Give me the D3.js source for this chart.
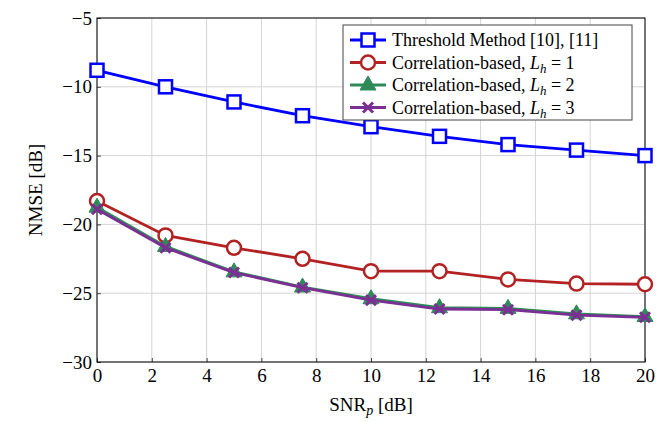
<!DOCTYPE html>
<html>
<head>
<meta charset="utf-8">
<script src="https://cdn.jsdelivr.net/npm/d3@7"></script>
<style>
  svg text, svg tspan { font-family: 'Liberation Serif', serif !important; }
</style>
</head>
<body style="margin:0">
<div class="chart"></div>
<script>
// data
const snr = [0, 2.5, 5, 7.5, 10, 12.5, 15, 17.5, 20]
const threshold = [-8.8, -10.0, -11.1, -12.1, -12.9, -13.6, -14.2, -14.6, -15.0]
const corrL1 = [-18.3, -20.8, -21.7, -22.5, -23.4, -23.4, -24.0, -24.3, -24.35]
const corrL2 = [-18.75, -21.6, -23.45, -24.55, -25.4, -26.05, -26.1, -26.5, -26.7]
const corrL3 = [-18.9, -21.7, -23.5, -24.6, -25.5, -26.15, -26.2, -26.6, -26.75]
const xTicks = [0, 2, 4, 6, 8, 10, 12, 14, 16, 18, 20]
const yTicks = [-5, -10, -15, -20, -25, -30]
const labels = ['Threshold Method [10], [11]', 'Correlation-based, ', 'Correlation-based, ', 'Correlation-based, ']

const margin = {top: 18, right: 24, bottom: 60, left: 97}
const width = 669 - margin.left - margin.right
const height = 422 - margin.top - margin.bottom

const root = d3.select('.chart')
  .append('svg')
    .attr('width', 669)
    .attr('height', 422)
const svg = root.append('g')
    .attr('transform', `translate(${margin.left}, ${margin.top})`)

const x = d3.scaleLinear().domain([0, 20]).range([0, width])
const y = d3.scaleLinear().domain([-30, -5]).range([height, 0])

// grid
svg.append('g').selectAll('line')
  .data(xTicks).enter().append('line')
    .attr('x1', d => x(d)).attr('x2', d => x(d))
    .attr('y1', 0).attr('y2', height)
    .style('stroke', '#d4d4d4').style('stroke-width', 1)
svg.append('g').selectAll('line')
  .data(yTicks).enter().append('line')
    .attr('x1', 0).attr('x2', width)
    .attr('y1', d => y(d)).attr('y2', d => y(d))
    .style('stroke', '#d4d4d4').style('stroke-width', 1)

const fmt = d => d < 0 ? '\u2212' + Math.abs(d) : String(d)

const xAxis = svg.append('g')
  .attr('transform', `translate(0, ${height})`)
  .call(d3.axisBottom(x).tickValues(xTicks).tickSize(-4).tickPadding(5).tickFormat(fmt))
const yAxis = svg.append('g')
  .call(d3.axisLeft(y).tickValues(yTicks).tickSize(-4).tickPadding(5).tickFormat(fmt))
;[xAxis, yAxis].forEach(a => {
  a.attr('font-family', 'Liberation Serif').attr('font-size', 19)
  a.select('.domain').remove()
  a.selectAll('.tick line').style('stroke', '#444')
  a.selectAll('text').attr('fill', '#000')
})
xAxis.selectAll('text').attr('dy', '0.8em')

// frame
svg.append('rect')
  .attr('width', width).attr('height', height)
  .style('fill', 'none').style('stroke', '#000').style('stroke-width', 1)

const series = [
  {vals: threshold, color: '#0000ff', mark: 'square'},
  {vals: corrL1, color: '#b22222', mark: 'circle'},
  {vals: corrL2, color: '#2e8b57', mark: 'triangle'},
  {vals: corrL3, color: '#7b2f94', mark: 'cross'}
]

const line = d3.line().x((d, i) => x(snr[i])).y(d => y(d))

function drawMark(g, kind, color) {
  if (kind === 'square') {
    g.append('rect').attr('x', -6.5).attr('y', -6.5).attr('width', 13).attr('height', 13)
      .style('fill', '#fff').style('stroke', color).style('stroke-width', 2.5)
  } else if (kind === 'circle') {
    g.append('circle').attr('r', 7)
      .style('fill', '#fff').style('stroke', color).style('stroke-width', 2.5)
  } else if (kind === 'triangle') {
    g.append('path').attr('d', 'M0,-9 L8,5 L-8,5 Z')
      .style('fill', color).style('stroke', color).style('stroke-width', 1)
  } else {
    g.append('path').attr('d', 'M-5,-5 L5,5 M-5,5 L5,-5')
      .style('fill', 'none').style('stroke', color).style('stroke-width', 3)
  }
}

series.forEach(s => {
  svg.append('path')
    .attr('d', line(s.vals))
    .style('fill', 'none').style('stroke', s.color).style('stroke-width', 2.8)
  s.vals.forEach((v, i) => {
    const g = svg.append('g').attr('transform', `translate(${x(snr[i])}, ${y(v)})`)
    drawMark(g, s.mark, s.color)
  })
})

// legend
const leg = svg.append('g').attr('transform', `translate(${343 - margin.left}, ${25 - margin.top})`)
leg.append('rect').attr('width', 289).attr('height', 95)
  .style('fill', '#fff').style('stroke', '#444').style('stroke-width', 1)
series.forEach((s, i) => {
  const row = leg.append('g').attr('transform', `translate(0, ${15 + i * 22.5})`)
  row.append('line').attr('x1', 7).attr('x2', 43)
    .style('stroke', s.color).style('stroke-width', 2.8)
  drawMark(row.append('g').attr('transform', 'translate(25, 0)'), s.mark, s.color)
  const t = row.append('text').attr('x', 49).attr('dy', '0.35em')
    .attr('font-family', 'Liberation Serif').attr('font-size', 18)
  t.append('tspan').text(labels[i])
  if (i > 0) {
    t.append('tspan').attr('font-style', 'italic').text('L')
    t.append('tspan').attr('font-style', 'italic').attr('font-size', 13).attr('dy', 4).text('h')
    t.append('tspan').attr('dy', -4).text(' = ' + i)
  }
})

// axis titles
svg.append('text')
  .attr('x', width / 2).attr('y', height + 49)
  .attr('text-anchor', 'middle').attr('font-size', 19)
  .attr('font-family', 'Liberation Serif')
  .call(t => {
    t.append('tspan').text('SNR')
    t.append('tspan').attr('font-style', 'italic').attr('font-size', 14).attr('dy', 4).text('p')
    t.append('tspan').attr('dy', -4).text(' [dB]')
  })
svg.append('text')
  .attr('transform', `translate(${-55}, ${height / 2}) rotate(-90)`)
  .attr('text-anchor', 'middle').attr('font-size', 19)
  .attr('font-family', 'Liberation Serif')
  .text('NMSE [dB]')
</script>
</body>
</html>
